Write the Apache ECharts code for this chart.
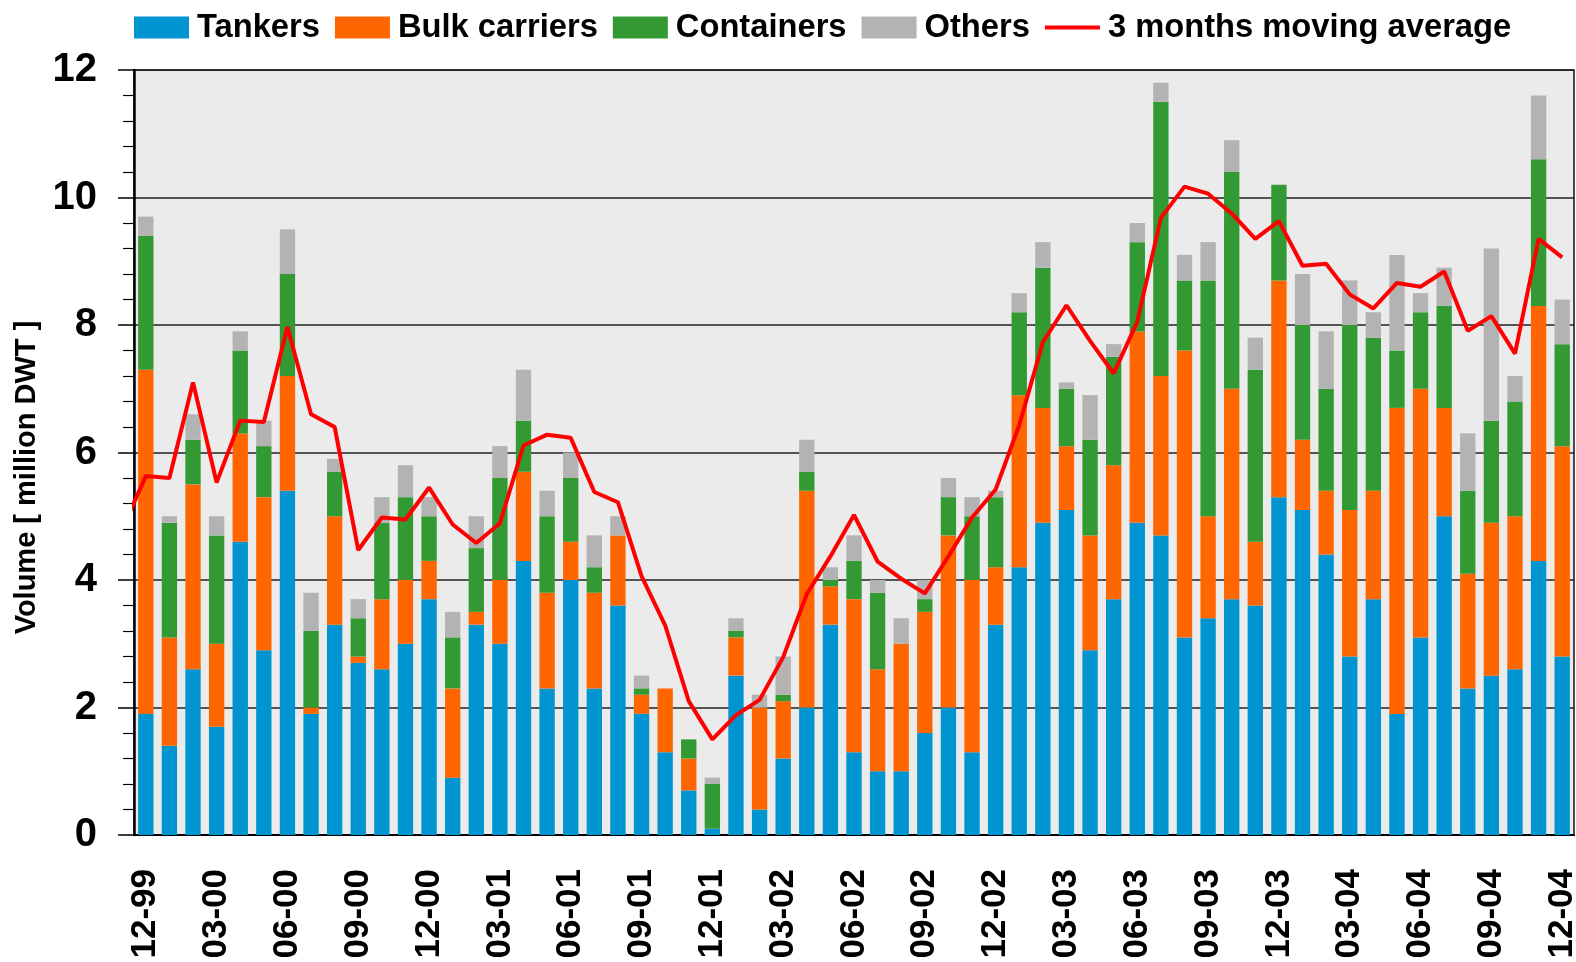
<!DOCTYPE html>
<html>
<head>
<meta charset="utf-8">
<title>Volume [ million DWT ]</title>
<script src="https://cdn.jsdelivr.net/npm/echarts@6/dist/echarts.min.js"></script>
<style>
html, body { margin: 0; padding: 0; background: #fff; }
#main { width: 1576px; height: 962px; }
</style>
</head>
<body>
<div id="main"></div>
<script>
// months, 12-99 .. 12-04
var months = ['12-99',
	'01-00','02-00','03-00','04-00','05-00','06-00','07-00','08-00','09-00','10-00','11-00','12-00',
	'01-01','02-01','03-01','04-01','05-01','06-01','07-01','08-01','09-01','10-01','11-01','12-01',
	'01-02','02-02','03-02','04-02','05-02','06-02','07-02','08-02','09-02','10-02','11-02','12-02',
	'01-03','02-03','03-03','04-03','05-03','06-03','07-03','08-03','09-03','10-03','11-03','12-03',
	'01-04','02-04','03-04','04-04','05-04','06-04','07-04','08-04','09-04','10-04','11-04','12-04'];

var tankers = [1.9,1.4,2.6,1.7,4.6,2.9,5.4,1.9,3.3,2.7, 2.6,3.0,3.7,0.9,3.3,3.0,4.3,2.3,4.0,2.3,
	3.6,1.9,1.3,0.7,0.1,2.5,0.4,1.2,2.0,3.3, 1.3,1.0,1.0,1.6,2.0,1.3,3.3,4.2,4.9,5.1,
	2.9,3.7,4.9,4.7,3.1,3.4,3.7,3.6,5.3,5.1, 4.4,2.8,3.7,1.9,3.1,5.0,2.3,2.5,2.6,4.3, 2.8];
var bulk = [5.4,1.7,2.9,1.3,1.7,2.4,1.8,0.1,1.7,0.1, 1.1,1.0,0.6,1.4,0.2,1.0,1.4,1.5,0.6,1.5,
	1.1,0.3,1.0,0.5,0,0.6,1.6,0.9,3.4,0.6, 2.4,1.6,2.0,1.9,2.7,2.7,0.9,2.7,1.8,1.0,
	1.8,2.1,3.0,2.5,4.5,1.6,3.3,1.0,3.4,1.1, 1.0,2.3,1.7,4.8,3.9,1.7,1.8,2.4,2.4,4.0, 3.3];
var containers = [2.1,1.8,0.7,1.7,1.3,0.8,1.6,1.2,0.7,0.6, 1.2,1.3,0.7,0.8,1.0,1.6,0.8,1.2,1.0,0.4,
	0,0.1,0,0.3,0.7,0.1,0,0.1,0.3,0.1, 0.6,1.2,0,0.2,0.6,1.0,1.1,1.3,2.2,0.9,
	1.5,1.7,1.4,4.3,1.1,3.7,3.4,2.7,1.5,1.8, 1.6,2.9,2.4,0.9,1.2,1.6,1.3,1.6,1.8,2.3, 1.6];
var others = [0.3,0.1,0.4,0.3,0.3,0.4,0.7,0.6,0.2,0.3, 0.4,0.5,0.3,0.4,0.5,0.5,0.8,0.4,0.4,0.5,
	0.3,0.2,0,0,0.1,0.2,0.2,0.6,0.5,0.2, 0.4,0.2,0.4,0.3,0.3,0.3,0.1,0.3,0.4,0.1,
	0.7,0.2,0.3,0.3,0.4,0.6,0.5,0.5,0,0.8, 0.9,0.7,0.4,1.5,0.3,0.6,0.9,2.7,0.4,1.0, 0.7];
// 3 months moving average (first value is 11-99, cut by the plot edge)
var movingAvgPrev = 4.8;
var movingAvg = [5.63,5.60,7.10,5.53,6.50,6.48,7.97,6.60,6.40,4.47, 4.98,4.95,5.45,4.87,4.58,4.89,6.11,6.28,6.23,5.38,
	5.22,4.06,3.29,2.10,1.50,1.88,2.12,2.79,3.78,4.37, 5.02,4.29,4.02,3.79,4.37,4.98,5.42,6.43,7.73,8.31,
	7.75,7.24,8.05,9.68,10.17,10.06,9.75,9.35,9.63,8.93, 8.96,8.48,8.26,8.66,8.60,8.84,7.91,8.14,7.55,9.35, 9.06];
var yTicks = { min: 0, max: 12, interval: 2 };

var font = "'Liberation Sans', Arial, Helvetica, sans-serif";

// line goes on a hidden value axis so the 11-99 point can sit left of the plot
var linePoints = [[-1, movingAvgPrev]];
for (var i = 0; i < movingAvg.length; i++) {
	linePoints.push([i, movingAvg[i]]);
}

function barSeries(name, data, color) {
	return {
		name: name,
		type: 'bar',
		stack: 'total',
		data: data,
		barCategoryGap: '35%',
		itemStyle: { color: color },
		emphasis: { disabled: true }
	};
}

var myChart = echarts.init(document.getElementById('main'));
var option = {
	animation: false,
	textStyle: { fontFamily: font },
	legend: {
		left: 129,
		top: 6,
		itemWidth: 55,
		itemHeight: 22,
		itemGap: 15,
		textStyle: { fontSize: 32.7, fontWeight: 'bold', color: '#000', fontFamily: font, padding: [0, 0, 0, 3] },
		data: [
			{ name: 'Tankers', icon: 'rect' },
			{ name: 'Bulk carriers', icon: 'rect' },
			{ name: 'Containers', icon: 'rect' },
			{ name: 'Others', icon: 'rect' },
			{ name: '3 months moving average', icon: 'path://M0,0h56v4h-56z' }
		]
	},
	grid: {
		left: 134,
		right: 2,
		top: 70,
		bottom: 127,
		outerBoundsMode: 'none',
		show: true,
		backgroundColor: '#ebebeb',
		borderColor: '#111',
		borderWidth: 1.5
	},
	xAxis: [{
		type: 'category',
		data: months,
		axisLine: { lineStyle: { color: '#000', width: 2 } },
		axisTick: { show: false },
		axisLabel: {
			interval: 2,
			rotate: 90,
			margin: 34,
			fontSize: 35,
			fontWeight: 'bold',
			color: '#000',
			fontFamily: font
		}
	}, {
		type: 'value',
		min: -0.5,
		max: months.length - 0.5,
		show: false
	}],
	yAxis: {
		type: 'value',
		min: yTicks.min,
		max: yTicks.max,
		interval: yTicks.interval,
		name: 'Volume [ million DWT ]',
		nameLocation: 'middle',
		nameGap: 90,
		nameTextStyle: { fontSize: 29, fontWeight: 'bold', color: '#000', fontFamily: font, padding: [0, 50, 0, 0] },
		axisLine: { show: true, onZero: false, lineStyle: { color: '#000', width: 2.5 } },
		axisTick: { show: true, inside: false, length: 16, lineStyle: { color: '#000', width: 1.5 } },
		minorTick: { show: true, splitNumber: 5, length: 11, lineStyle: { color: '#000', width: 1.2 } },
		splitLine: { lineStyle: { color: '#222', width: 1.5 } },
		axisLabel: { margin: 37, fontSize: 40, fontWeight: 'bold', color: '#000', fontFamily: font }
	},
	series: [
		barSeries('Tankers', tankers, '#0094d0'),
		barSeries('Bulk carriers', bulk, '#ff6600'),
		barSeries('Containers', containers, '#339933'),
		barSeries('Others', others, '#b3b3b3'),
		{
			name: '3 months moving average',
			type: 'line',
			xAxisIndex: 1,
			data: linePoints,
			symbol: 'none',
			clip: true,
			z: 10,
			lineStyle: { color: '#ff0000', width: 4 },
			itemStyle: { color: '#ff0000' }
		}
	]
};
myChart.setOption(option);
</script>
</body>
</html>
